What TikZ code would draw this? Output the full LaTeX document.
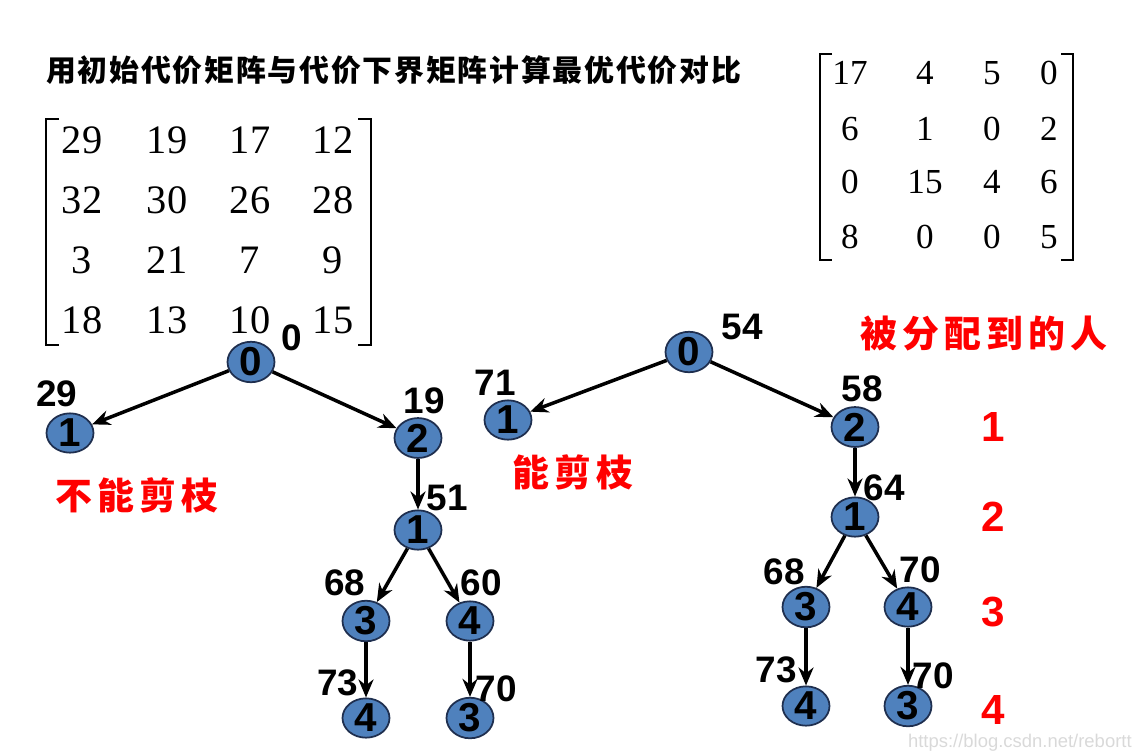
\documentclass[tikz,border=0pt]{standalone}
\usepackage{fontspec}
\setmainfont{Liberation Serif}
\setsansfont{Liberation Sans}
\newfontfamily\cjktitle[LetterSpace=6]{Noto Sans CJK SC}
\newfontfamily\cjknote[LetterSpace=14]{Noto Sans CJK SC}
\usetikzlibrary{arrows.meta, shapes.geometric}
\definecolor{nodeblue}{HTML}{4F81BD}
\definecolor{rimblue}{HTML}{1F2F4F}

\begin{document}
\begin{tikzpicture}[
    x=0.02cm, y=-0.02cm,
    vertex/.style={ellipse, draw=rimblue, line width=1pt, fill=nodeblue, minimum width=9.4mm, minimum height=7.2mm, inner sep=0pt, font=\sffamily\bfseries\fontsize{23}{23}\selectfont},
    cost/.style={inner sep=0pt, font=\sffamily\bfseries\fontsize{21}{21}\selectfont},
    level/.style={inner sep=0pt, text=red, font=\sffamily\bfseries\fontsize{24}{24}\selectfont},
    note/.style={inner sep=0pt, anchor=west, text=red, font=\cjknote\bfseries\fontsize{21}{21}\selectfont},
    entry/.style={inner sep=0pt, font=\fontsize{23}{23}\selectfont},
    small entry/.style={inner sep=0pt, font=\fontsize{20}{20}\selectfont},
    bracket/.style={line width=1.2pt},
    arrow/.style={-{Stealth[length=3.6mm, width=3mm]}, line width=2pt},
]
\useasboundingbox (0,0) rectangle (1142,755);

% title
\node[inner sep=0pt, anchor=west, font=\cjktitle\bfseries\fontsize{17}{17}\selectfont] (title) at (46,70) {用初始代价矩阵与代价下界矩阵计算最优代价对比};

% initial cost matrix
\draw[bracket] (59,119) -- (46,119) -- (46,345) -- (59,345);
\draw[bracket] (358,119) -- (371,119) -- (371,345) -- (358,345);
\foreach \y/\a/\b/\c/\d [count=\r] in {140/29/19/17/12, 200/32/30/26/28, 260/3/21/7/9, 320/18/13/10/15} {
  \node[entry] (a\r1) at (82,\y)  {\a};
  \node[entry] (a\r2) at (167,\y) {\b};
  \node[entry] (a\r3) at (250,\y) {\c};
  \node[entry] (a\r4) at (333,\y) {\d};
}

% lower bound matrix
\draw[bracket] (832,54) -- (820,54) -- (820,260) -- (832,260);
\draw[bracket] (1061,54) -- (1073,54) -- (1073,260) -- (1061,260);
\foreach \y/\a/\b/\c/\d [count=\r] in {73/17/4/5/0, 129/6/1/0/2, 182/0/15/4/6, 237/8/0/0/5} {
  \node[small entry] (b\r1) at (850,\y)  {\a};
  \node[small entry] (b\r2) at (925,\y)  {\b};
  \node[small entry] (b\r3) at (992,\y)  {\c};
  \node[small entry] (b\r4) at (1049,\y) {\d};
}

% left tree
\node[vertex] (l0)  at (251,362) {0};
\node[vertex] (l1)  at (70,433)  {1};
\node[vertex] (l2)  at (418,438) {2};
\node[vertex] (l21) at (418,530) {1};
\node[vertex] (l3)  at (366,621) {3};
\node[vertex] (l4)  at (470,621) {4};
\node[vertex] (l34) at (366,718) {4};
\node[vertex] (l43) at (470,718) {3};

\node[cost] (cl0)  at (292,338) {0};
\node[cost] (cl1)  at (57,394)  {29};
\node[cost] (cl2)  at (424,401) {19};
\node[cost] (cl21) at (447,498) {51};
\node[cost] (cl3)  at (345,583) {68};
\node[cost] (cl4)  at (481,583) {60};
\node[cost] (cl34) at (338,683) {73};
\node[cost] (cl43) at (496,689) {70};

\draw[arrow] (l0) -- (l1);
\draw[arrow] (l0) -- (l2);
\draw[arrow] (l2) -- (l21);
\draw[arrow] (l21) -- (l3);
\draw[arrow] (l21) -- (l4);
\draw[arrow] (l3) -- (l34);
\draw[arrow] (l4) -- (l43);

% right tree
\node[vertex] (r0)  at (689,352) {0};
\node[vertex] (r1)  at (508,420) {1};
\node[vertex] (r2)  at (855,427) {2};
\node[vertex] (r21) at (855,517) {1};
\node[vertex] (r3)  at (806,607) {3};
\node[vertex] (r4)  at (908,607) {4};
\node[vertex] (r34) at (806,706) {4};
\node[vertex] (r43) at (908,706) {3};

\node[cost] (cr0)  at (742,327) {54};
\node[cost] (cr1)  at (495,383) {71};
\node[cost] (cr2)  at (862,389) {58};
\node[cost] (cr21) at (884,488) {64};
\node[cost] (cr3)  at (784,572) {68};
\node[cost] (cr4)  at (920,570) {70};
\node[cost] (cr34) at (776,670) {73};
\node[cost] (cr43) at (933,676) {70};

\draw[arrow] (r0) -- (r1);
\draw[arrow] (r0) -- (r2);
\draw[arrow] (r2) -- (r21);
\draw[arrow] (r21) -- (r3);
\draw[arrow] (r21) -- (r4);
\draw[arrow] (r3) -- (r34);
\draw[arrow] (r4) -- (r43);

% notes
\node[note] (cannot) at (55,495)  {不能剪枝};
\node[note] (can)    at (512,472) {能剪枝};
\node[note] (person) at (860,333) {被分配到的人};
\node[level] (lv1) at (993,427) {1};
\node[level] (lv2) at (993,517) {2};
\node[level] (lv3) at (993,612) {3};
\node[level] (lv4) at (993,710) {4};

\node[inner sep=0pt, anchor=east, text=black!15, font=\sffamily\fontsize{10.5}{10.5}\selectfont] (mark) at (1132,743) {https://blog.csdn.net/rebortt};
\end{tikzpicture}
\end{document}
